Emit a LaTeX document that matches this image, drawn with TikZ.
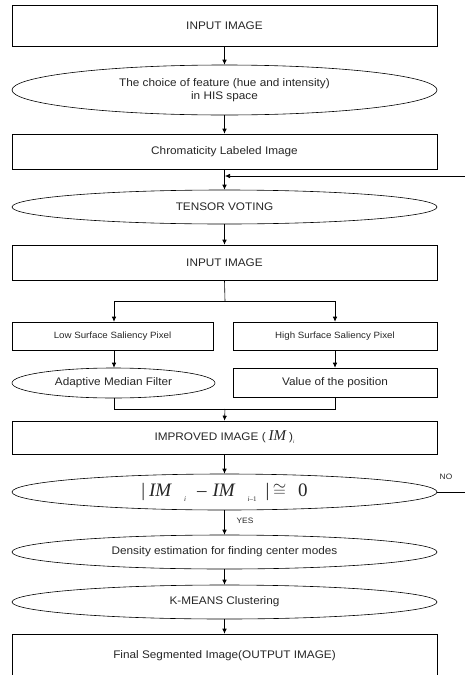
\documentclass[tikz,border=0pt]{standalone}
\usepackage{fontspec}
\setmainfont{Liberation Sans}[FakeStretch=1.07]
\newfontfamily\tmsfont{Liberation Serif}
\usetikzlibrary{shapes.geometric,arrows.meta}

\begin{document}
\begin{tikzpicture}[x=1pt,y=-1pt,
  line width=0.6pt,
  txt/.style={font=\fontsize{11}{13.5}\selectfont, align=center, text=black!85},
  small/.style={font=\fontsize{9.1}{10}\selectfont, text=black!85},
  box/.style={draw, rectangle, inner sep=0pt, txt},
  wide/.style={minimum width=425pt},
  oval/.style={draw, ellipse, inner sep=0pt, txt},
  arr/.style={-{Latex[length=5pt,width=4.5pt]}},
  tag/.style={font=\fontsize{7.8}{9}\selectfont, text=black!85, inner sep=0pt}
]
\useasboundingbox (0,0) rectangle (464,675);

% main column
\node[box, wide, minimum height=41pt] (inp) at (224.5,25.5) {INPUT IMAGE};
\node[oval, wide, minimum height=50pt] (feat) at (224.5,90)
  {The choice of feature (hue and intensity)\\in HIS space};
\node[box, wide, minimum height=35pt] (chrom) at (224.5,151.5) {Chromaticity Labeled Image};
\node[oval, wide, minimum height=34pt] (tv) at (224.5,207) {TENSOR VOTING};
\node[box, wide, minimum height=35pt] (inp2) at (224.5,262.5) {INPUT IMAGE};

% two branches
\node[box, minimum width=201pt, minimum height=28pt, small] (low) at (112.5,336) {Low Surface Saliency Pixel};
\node[box, minimum width=204pt, minimum height=28pt, small] (high) at (335,336) {High Surface Saliency Pixel};
\node[oval, minimum width=203pt, minimum height=30pt] (amf) at (113.5,383) {Adaptive Median Filter};
\node[box, minimum width=204pt, minimum height=29pt] (val) at (335,382.5) {Value of the position};

\node[box, wide, minimum height=33pt] (impr) at (224.5,437.5)
  {IMPROVED IMAGE (\hspace{3pt}{\tmsfont\itshape\fontsize{15}{16}\selectfont IM}\hspace{3pt})\raisebox{-3pt}{\tmsfont\itshape\fontsize{5}{6}\selectfont i}};
\node[oval, wide, minimum height=36pt] (test) at (224.5,492)
  {\tmsfont\fontsize{19}{22}\selectfont |\hspace{4pt}\textit{IM}\hspace{12pt}\raisebox{-5pt}{\fontsize{7}{8}\selectfont\textit{i}}\hspace{11pt}–\hspace{6pt}\textit{IM}\hspace{12pt}\raisebox{-5pt}{\fontsize{7}{8}\selectfont\textit{i}–1}\hspace{9pt}|\hspace{3.5pt}$\cong$\hspace{12pt}0};
\node[oval, wide, minimum height=34pt] (dens) at (224.5,552) {Density estimation for finding center modes};
\node[oval, wide, minimum height=34pt] (km) at (224.5,602) {K-MEANS Clustering};
\node[box, wide, minimum height=44pt] (final) at (224.5,656) {Final Segmented Image(OUTPUT IMAGE)};

\node[tag] (no) at (446,477) {NO};
\node[tag] (yes) at (245,521) {YES};

% connectors
\coordinate (split) at (225,301);
\coordinate (merge) at (225,409);
\coordinate (loop) at (225,176);
\coordinate (side) at (467,176);

\draw[arr] (inp) -- (feat);
\draw[arr] (feat) -- (chrom);
\draw[arr] (chrom) -- (tv);
\draw[arr] (tv) -- (inp2);
\draw (inp2.south) -- (split);
\draw[arr] (split) -| (low.north -| 114,0);
\draw[arr] (split) -| (high.north);
\draw[arr] (low.south -| 114,0) -- (amf.north -| 114,0);
\draw[arr] (high) -- (val);
\draw (amf.south -| 114,0) |- (merge);
\draw (val.south) |- (merge);
\draw[arr] (merge) -- (impr.north);
\draw[arr] (impr) -- (test);
\draw[arr] (test) -- (dens);
\draw[arr] (dens) -- (km);
\draw[arr] (km) -- (final);

% NO branch loops back above the tensor voting step
\draw[arr] (test.east) -- (test.east -| side) -- (side) -- (loop);
\end{tikzpicture}
\end{document}
